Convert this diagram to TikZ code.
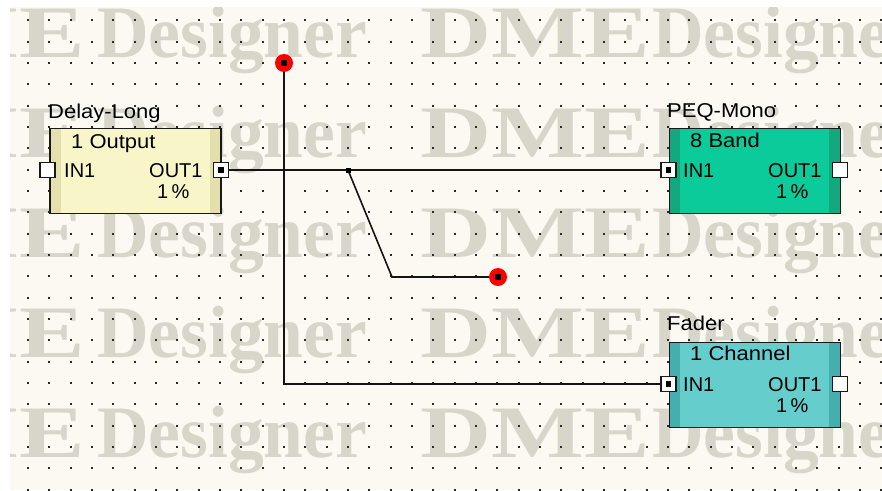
\documentclass[tikz,border=0pt]{standalone}
\usepackage{fontspec}
\setmainfont{Liberation Sans}
\newfontfamily\wmfont{Liberation Serif}
\usepackage{graphicx}
\definecolor{canvasc}{HTML}{FBF9F1}
\definecolor{wmc}{HTML}{D8D5CB}
\definecolor{dotc}{HTML}{2A2A2A}
\definecolor{yelmain}{HTML}{F8F6C8}
\definecolor{yelstrip}{HTML}{E4E0AE}
\definecolor{grnmain}{HTML}{0CCB9A}
\definecolor{grnstrip}{HTML}{14A87E}
\definecolor{cyamain}{HTML}{66CDCD}
\definecolor{cyastrip}{HTML}{45AEAE}
\definecolor{wirec}{HTML}{141414}
\newcommand\widetxt[1]{\scalebox{1.1}[1]{#1}}
\tikzset{
  wm/.style={font=\wmfont\bfseries\fontsize{74}{74}\selectfont, text=wmc, inner sep=0, anchor=base west},
  lbl/.style={font=\fontsize{20}{20}\selectfont, inner sep=0, anchor=base west, text=black},
  dmebox/.style={draw=black!90, line width=1.8pt, minimum width=171pt, minimum height=85pt,
     inner sep=0, anchor=north west},
  strips/.style={path picture={
     \fill[#1] (path picture bounding box.north west) rectangle ([xshift=11pt]path picture bounding box.south west);
     \fill[#1] (path picture bounding box.north east) rectangle ([xshift=-11pt]path picture bounding box.south east);}},
  port/.style={draw=black!90, fill=white, line width=1.8pt, minimum size=15pt, inner sep=0},
  cport/.style={port, path picture={\fill[black] ([shift={(-2.6pt,-2.6pt)}]path picture bounding box.center) rectangle ++(5.2pt,5.2pt);}},
  wire/.style={draw=wirec, line width=1.6pt},
  reddot/.style={circle, fill=red, minimum size=18pt, inner sep=0,
     path picture={\fill[black] ([shift={(-2.8pt,-2.8pt)}]path picture bounding box.center) rectangle ++(5.6pt,5.6pt);}},
}
\begin{document}
\begin{tikzpicture}[x=1pt,y=-1pt]
\useasboundingbox (0,0) rectangle (882,490);
\fill[white] (0,0) rectangle (882,490);
\fill[canvasc] (10,7) rectangle (882,490);
% watermark
\begin{scope}
\clip (10,7) rectangle (882,490);
\foreach \yb in {57,157,257,357,457} {
  \node[wm] (wmla\yb) at (-145,\yb) {\scalebox{1.33}[1]{DME}};
  \node[wm] (wmlb\yb) at (97,\yb) {\scalebox{0.966}[1]{Designer}};
  \node[wm] (wmra\yb) at (420,\yb) {\scalebox{1.33}[1]{DME}};
  \node[wm] (wmrb\yb) at (652,\yb) {\scalebox{0.966}[1]{Designer}};
}
% grid dots
\foreach \i in {0,...,40} {
  \foreach \j in {0,...,22} {
    \fill[dotc] ({28+\i*21.333-1.1},{20.333+\j*21.333-1.1}) rectangle ++(2.2,2.2);
  }
}
\end{scope}

% boxes
\node[dmebox, fill=yelmain, strips=yelstrip] (delay) at (49,127.5) {};
\node[dmebox, fill=grnmain, strips=grnstrip] (peq) at (668.5,127.5) {};
\node[dmebox, fill=cyamain, strips=cyastrip] (fader) at (668.5,341.5) {};

% ports
\node[port]  (delayin)  at (47.5,170) {};
\node[cport] (delayout) at (221,170) {};
\node[cport] (peqin)    at (668.5,170) {};
\node[port]  (peqout)   at (840,170) {};
\node[cport] (fadin)    at (668.5,384) {};
\node[port]  (fadout)   at (840,384) {};

% texts: Delay-Long
\node[lbl] (delayt) at (48,118) {\widetxt{Delay-Long}};
\node[lbl] (delays) at (71,148) {\widetxt{1 Output}};
\node[lbl] (delayi) at (64,177) {IN1};
\node[lbl] (delayo) at (149,177) {OUT1};
\node[lbl] (delayp) at (157,198) {1\,\%};
% PEQ-Mono
\node[lbl] (peqt) at (667,117) {\widetxt{PEQ-Mono}};
\node[lbl] (peqs) at (690,147) {\widetxt{8 Band}};
\node[lbl] (peqi) at (683,177) {IN1};
\node[lbl] (peqo) at (768,177) {OUT1};
\node[lbl] (peqp) at (776,198) {1\,\%};
% Fader
\node[lbl] (fadt) at (667,330) {\widetxt{Fader}};
\node[lbl] (fads) at (690,360) {\widetxt{1 Channel}};
\node[lbl] (fadi) at (683,391) {IN1};
\node[lbl] (fado) at (768,391) {OUT1};
\node[lbl] (fadp) at (776,412) {1\,\%};

% wires
\coordinate (j1) at (348,170);
\coordinate (bend1) at (392,277);
\coordinate (rd2) at (498,277);
\coordinate (rd1) at (284,63);
\coordinate (bend2) at (284,384);
\draw[wire] (delayout.east) -- (peqin.west);
\draw[wire] (j1) -- (bend1) -- (rd2);
\draw[wire] (rd1) -- (bend2) -- (fadin.west);
\fill[black] ([shift={(-2.5,-2.5)}]j1) rectangle ++(5,5);

% loose wire ends
\node[reddot] (red1) at (rd1) {};
\node[reddot] (red2) at (rd2) {};
\end{tikzpicture}
\end{document}
